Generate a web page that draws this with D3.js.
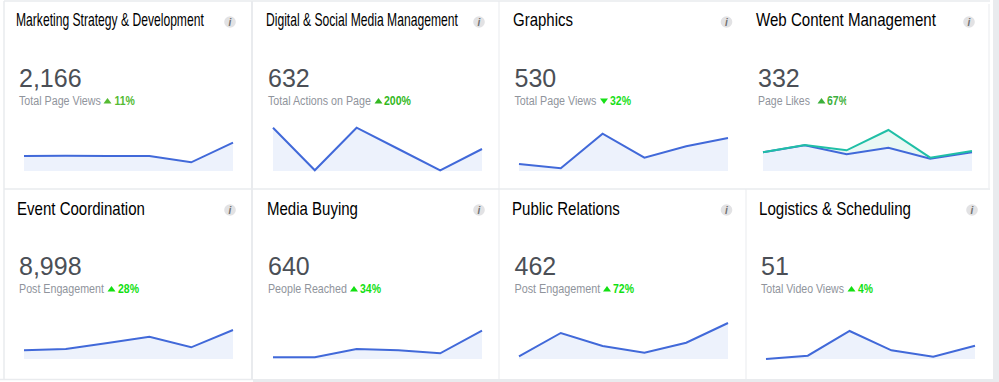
<!DOCTYPE html>
<html>
<head>
<meta charset="utf-8">
<script src="https://cdn.jsdelivr.net/npm/d3@7"></script>
<style>
    html, body { margin: 0; padding: 0; background: #fff; overflow: hidden; }
    svg { display: block; font-family: "Liberation Sans", Arial, sans-serif; }
</style>
</head>
<body>
<div id="chart"></div>
<script>
const titles = ["Marketing Strategy & Development", "Digital & Social Media Management", "Graphics", "Web Content Management",
    "Event Coordination", "Media Buying", "Public Relations", "Logistics & Scheduling"];
const totals = ["2,166", "632", "530", "332", "8,998", "640", "462", "51"];
const metrics = ["Total Page Views", "Total Actions on Page", "Total Page Views", "Page Likes",
    "Post Engagement", "People Reached", "Post Engagement", "Total Video Views"];
const changes = ["11%", "200%", "32%", "67%", "28%", "34%", "72%", "4%"];
const directions = ["up", "up", "down", "up", "up", "up", "up", "up"];

// six periods per sparkline, heights
const mainSeries = [
    [15, 15.3, 15, 15, 8.7, 28.3],
    [43.3, 0.7, 43.3, 22, 0.7, 22],
    [7, 2.7, 37.3, 13.3, 24.7, 33],
    [18.7, 25.7, 16.7, 23.3, 12.3, 18.7],
    [8.7, 10, 16, 22.3, 11.7, 29],
    [1.7, 1.7, 10, 8.7, 5.7, 28.3],
    [2.7, 26, 13, 6.3, 16.3, 36],
    [0, 3.3, 28, 8.7, 2.3, 13.3]
];
const compareSeries = [null, null, null, [18.7, 26, 20.7, 41, 13.3, 20], null, null, null, null];

// layout, one entry per card
const cardX = [24, 273, 519, 763, 24, 273, 519, 766];
const titleX = [16, 266, 513, 756, 17, 267, 512, 759];
const titleW = [188, 192, 60, 180, 128, 91, 108, 152];
const totalX = [19, 268, 514.5, 758, 19, 268, 514.5, 761];
const metricW = [82, 103, 82, 52, 85, 79, 86, 83];
const arrowX = [107.5, 378.5, 604, 821.5, 111.5, 354, 607, 851.5];
const changeX = [114.5, 384, 610, 827, 118, 360, 613, 858];
const changeW = [20.5, 27, 21, 21, 21, 21, 21, 15];
const changeColors = ["#55bb33", "#33b822", "#18e018", "#3cb03c", "#12e012", "#12e012", "#12e012", "#12e012"];
const infoX = [230, 479, 726.5, 969, 230, 479, 726.5, 972];

const width = 999, height = 382;
const sparkW = 209, sparkH = 44;
const gridColor = "#e9ebee";

const svg = d3.select("#chart").append("svg")
    .attr("width", width)
    .attr("height", height);

const defs = svg.append("defs");
defs.append("filter").attr("id", "soft")
    .append("feGaussianBlur").attr("stdDeviation", 0.4);
defs.append("clipPath").attr("id", "clip-change")
    .append("rect").attr("x", 0).attr("y", -20).attr("width", 23).attr("height", 30);

// frame lines between the cards
const frame = [
    [4, 1, 990, 1, 1.5], [4, 189, 990, 189, 1.5], [4, 1, 4, 379, 1.5],
    [252, 1, 252, 379, 2], [499, 1, 499, 379, 1], [746, 189, 746, 379, 1],
    [989, 4, 989, 188, 1], [0, 379.5, 253, 379.5, 1.5]
];
svg.selectAll("line.frame").data(frame).join("line")
    .attr("class", "frame")
    .attr("x1", d => d[0]).attr("y1", d => d[1])
    .attr("x2", d => d[2]).attr("y2", d => d[3])
    .attr("stroke", gridColor)
    .attr("stroke-width", d => d[4]);
svg.append("rect").attr("x", 993).attr("y", 0).attr("width", 6).attr("height", height).attr("fill", gridColor);
svg.append("rect").attr("x", 253).attr("y", 379).attr("width", 746).attr("height", 3).attr("fill", gridColor);

const x = d3.scaleLinear().domain([0, 5]).range([0, sparkW]);
const y = d3.scaleLinear().domain([0, sparkH]).range([0, -sparkH]);
const line = d3.line().x((d, i) => x(i)).y(d => y(d));
const area = d3.area().x((d, i) => x(i)).y0(y(0)).y1(d => y(d));

// squeeze a text sideways so it ends up exactly w wide
function fitText(sel, tx, ty, w) {
    const natural = sel.node().getComputedTextLength();
    sel.attr("transform", `translate(${tx},${ty}) scale(${w / natural},1)`);
}

titles.forEach((title, i) => {
    const top = i < 4 ? 0 : 188;
    const g = svg.append("g").attr("transform", `translate(0,${top})`);

    const titleText = g.append("text")
        .attr("font-size", 18)
        .attr("fill", "#000")
        .text(title);
    fitText(titleText, titleX[i], i < 4 ? 26 : 27, titleW[i]);

    // info badge
    g.append("circle")
        .attr("cx", infoX[i]).attr("cy", 22).attr("r", 5.8)
        .attr("fill", "#e2e2e4")
        .attr("filter", "url(#soft)");
    g.append("text")
        .attr("x", infoX[i]).attr("y", 25.5)
        .attr("text-anchor", "middle")
        .attr("font-size", 10)
        .attr("font-style", "italic")
        .attr("font-weight", "bold")
        .attr("fill", "#707070")
        .text("i");

    g.append("text")
        .attr("x", totalX[i]).attr("y", 87)
        .attr("font-size", 25)
        .attr("fill", "#4b4f56")
        .text(totals[i]);

    const metricText = g.append("text")
        .attr("font-size", 12.5)
        .attr("fill", "#90949c")
        .text(metrics[i]);
    fitText(metricText, totalX[i], 105, metricW[i]);

    const sign = directions[i] === "up" ? 1 : -1;
    g.append("path")
        .attr("transform", `translate(${arrowX[i]},${101})`)
        .attr("d", `M-4,${2.5 * sign}L4,${2.5 * sign}L0,${-3 * sign}Z`)
        .attr("fill", changeColors[i]);

    const changeText = g.append("text")
        .attr("font-size", 12.5)
        .attr("font-weight", "bold")
        .attr("fill", changeColors[i])
        .attr("clip-path", i === 3 ? "url(#clip-change)" : null)
        .text(changes[i]);
    fitText(changeText, changeX[i], 105, changeW[i]);

    const spark = g.append("g").attr("transform", `translate(${cardX[i]},171)`);
    if (compareSeries[i]) {
        spark.append("path").attr("d", area(compareSeries[i])).attr("fill", "#e9f8f5");
    }
    spark.append("path").attr("d", area(mainSeries[i])).attr("fill", "#edf2fc");
    spark.append("path").attr("d", line(mainSeries[i]))
        .attr("fill", "none")
        .attr("stroke", "#4169d9")
        .attr("stroke-width", 2);
    if (compareSeries[i]) {
        spark.append("path").attr("d", line(compareSeries[i]))
            .attr("fill", "none")
            .attr("stroke", "#20bfa6")
            .attr("stroke-width", 2);
    }
});
</script>
</body>
</html>
